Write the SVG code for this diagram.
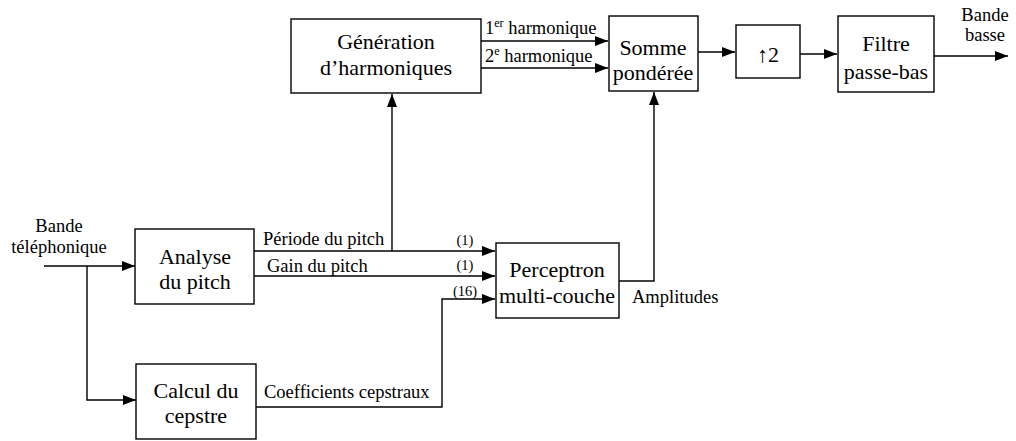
<svg xmlns="http://www.w3.org/2000/svg" width="1016" height="441" viewBox="0 0 1016 441">
<style>
.box{fill:#fff;stroke:#000;stroke-width:1.4}
.ln{fill:none;stroke:#000;stroke-width:1.4}
text{font-family:"Times New Roman",Times,Tinos,"Liberation Serif","Nimbus Roman","Noto Serif","DejaVu Serif",serif;fill:#000}
.big{font-size:22px;text-anchor:middle}
.lab{font-size:18.5px}
.num{font-size:14.5px;text-anchor:middle}
.sup{font-size:12px}
</style>
<defs>
<marker id="ah" markerWidth="13" markerHeight="10" refX="13" refY="5" orient="auto" markerUnits="userSpaceOnUse">
<path d="M0,0 L13,5 L0,10 Z" fill="#000"/>
</marker>
</defs>
<rect width="1016" height="441" fill="#fff"/>
<g id="connectors">
<path class="ln" d="M44,266 H135" marker-end="url(#ah)"/>
<path class="ln" d="M87,266 V400 H136" marker-end="url(#ah)"/>
<path class="ln" d="M254,251 H495" marker-end="url(#ah)"/>
<path class="ln" d="M392,251 V94" marker-end="url(#ah)"/>
<path class="ln" d="M254,276 H495" marker-end="url(#ah)"/>
<path class="ln" d="M256,407 H442 V299 H495" marker-end="url(#ah)"/>
<path class="ln" d="M619,281 H654 V92" marker-end="url(#ah)"/>
<path class="ln" d="M481,41 H608" marker-end="url(#ah)"/>
<path class="ln" d="M481,68 H608" marker-end="url(#ah)"/>
<path class="ln" d="M698,52 H735" marker-end="url(#ah)"/>
<path class="ln" d="M800,54 H837" marker-end="url(#ah)"/>
<path class="ln" d="M934,56 H1008" marker-end="url(#ah)"/>
<text class="lab" x="485" y="34">1<tspan class="sup" dy="-7">er</tspan><tspan dy="7"> harmonique</tspan></text>
<text class="lab" x="485" y="62">2<tspan class="sup" dy="-7">e</tspan><tspan dy="7"> harmonique</tspan></text>
<text class="lab" x="263" y="245">Période du pitch</text>
<text class="lab" x="267" y="272">Gain du pitch</text>
<text class="lab" x="264" y="398">Coefficients cepstraux</text>
<text class="lab" x="632" y="303">Amplitudes</text>
<text class="num" x="465" y="245">(1)</text>
<text class="num" x="465" y="270">(1)</text>
<text class="num" x="465" y="296">(16)</text>
<text class="lab" x="59" y="232" text-anchor="middle">Bande</text>
<text class="lab" x="59" y="253" text-anchor="middle">téléphonique</text>
<text class="lab" x="985" y="21" text-anchor="middle">Bande</text>
<text class="lab" x="985" y="41" text-anchor="middle">basse</text>
</g>
<g id="generation">
<rect class="box" x="291" y="19" width="190" height="74"/>
<text class="big" x="386" y="49">Génération</text>
<text class="big" x="386" y="75">d’harmoniques</text>
</g>
<g id="somme">
<rect class="box" x="609" y="16" width="89" height="75"/>
<text class="big" x="653" y="55">Somme</text>
<text class="big" x="653" y="80">pondérée</text>
</g>
<g id="upsample">
<rect class="box" x="736" y="25" width="64" height="53"/>
<text class="big" x="768" y="62">↑2</text>
</g>
<g id="filtre">
<rect class="box" x="838" y="16" width="96" height="76"/>
<text class="big" x="886" y="51">Filtre</text>
<text class="big" x="886" y="79">passe-bas</text>
</g>
<g id="analyse">
<rect class="box" x="135" y="229" width="119" height="75"/>
<text class="big" x="195" y="264">Analyse</text>
<text class="big" x="195" y="289">du pitch</text>
</g>
<g id="perceptron">
<rect class="box" x="496" y="243" width="123" height="75"/>
<text class="big" x="557" y="277">Perceptron</text>
<text class="big" x="557" y="303">multi-couche</text>
</g>
<g id="cepstre">
<rect class="box" x="136" y="364" width="120" height="75"/>
<text class="big" x="196" y="398">Calcul du</text>
<text class="big" x="196" y="423">cepstre</text>
</g>
</svg>
